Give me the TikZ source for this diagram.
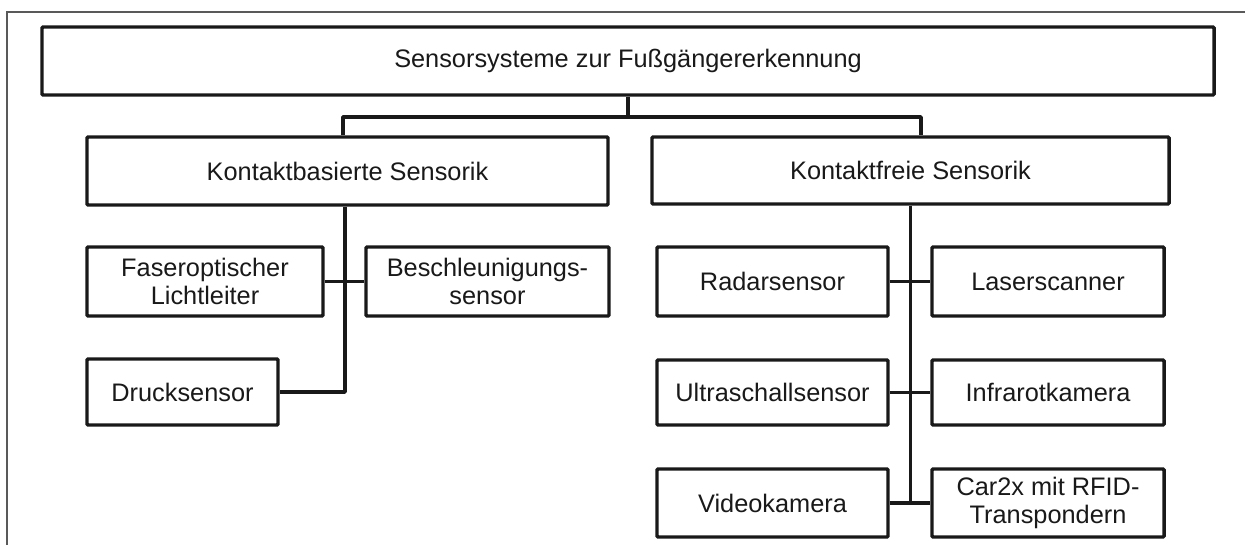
\documentclass[tikz,border=0pt]{standalone}
\usepackage{fontspec}
\setmainfont{Liberation Sans}
\usetikzlibrary{calc}

\tikzset{
  box/.style={draw=black!90, line width=2.6pt, rounded corners=0.8pt, fill=white,
    inner sep=0pt, align=center, text=black!90,
    font=\fontsize{19}{20.5}\selectfont},
  link/.style={draw=black!90, line width=2.6pt},
  frame/.style={draw=black!65, line width=0.9pt}
}

\begin{document}
\begin{tikzpicture}[x=0.75pt, y=-0.75pt]
  \clip (0,0) rectangle (1245,544);
  \fill[white] (0,0) rectangle (1245,544);
  % outer frame, left and top edges
  \draw[frame] (7,560) -- (7,12) -- (1260,12);

  % boxes
  \node[box, minimum width=1172*0.75pt, minimum height=68*0.75pt] (top) at (628,61) {Sensorsysteme zur Fußgängererkennung};
  \node[box, minimum width=521*0.75pt, minimum height=68*0.75pt] (kb) at (347.5,171) {Kontaktbasierte Sensorik};
  \node[box, minimum width=517*0.75pt, minimum height=67*0.75pt] (kf) at (910.5,170.5) {Kontaktfreie Sensorik};

  \node[box, minimum width=236*0.75pt, minimum height=69*0.75pt] (fo) at (205,281.5) {Faseroptischer\\Lichtleiter};
  \node[box, minimum width=243*0.75pt, minimum height=69*0.75pt] (be) at (487.5,281.5) {Beschleunigungs-\\sensor};
  \node[box, minimum width=191*0.75pt, minimum height=66*0.75pt] (dr) at (182.5,392) {Drucksensor};

  \node[box, minimum width=231*0.75pt, minimum height=69*0.75pt] (ra) at (772.5,281.5) {Radarsensor};
  \node[box, minimum width=232*0.75pt, minimum height=69*0.75pt] (la) at (1048,281.5) {Laserscanner};
  \node[box, minimum width=231*0.75pt, minimum height=65*0.75pt] (ul) at (772.5,392.5) {Ultraschallsensor};
  \node[box, minimum width=232*0.75pt, minimum height=65*0.75pt] (in) at (1048,392.5) {Infrarotkamera};
  \node[box, minimum width=231*0.75pt, minimum height=68*0.75pt] (vi) at (772.5,503) {Videokamera};
  \node[box, minimum width=232*0.75pt, minimum height=68*0.75pt] (ca) at (1048,503) {Car2x mit RFID-\\Transpondern};

  % top-level branching
  \coordinate (bus) at (628,117);
  \draw[link] (top.south) -- (bus);
  \draw[link, line join=round] ($(kb.north)+(-4.5,0)$) |- (bus) -| ($(kf.north)+(10.5,0)$);

  % contact-based branch
  \draw[link, line join=round] ($(kb.south)+(-2.5,0)$) |- (dr.east);
  \draw[link] (fo.east) -- (be.west);

  % contact-free branch
  \draw[link] (kf.south) -- (kf.south |- vi.east);
  \draw[link] (ra.east) -- (la.west);
  \draw[link] (ul.east) -- (in.west);
  \draw[link] (vi.east) -- (ca.west);
\end{tikzpicture}
\end{document}
